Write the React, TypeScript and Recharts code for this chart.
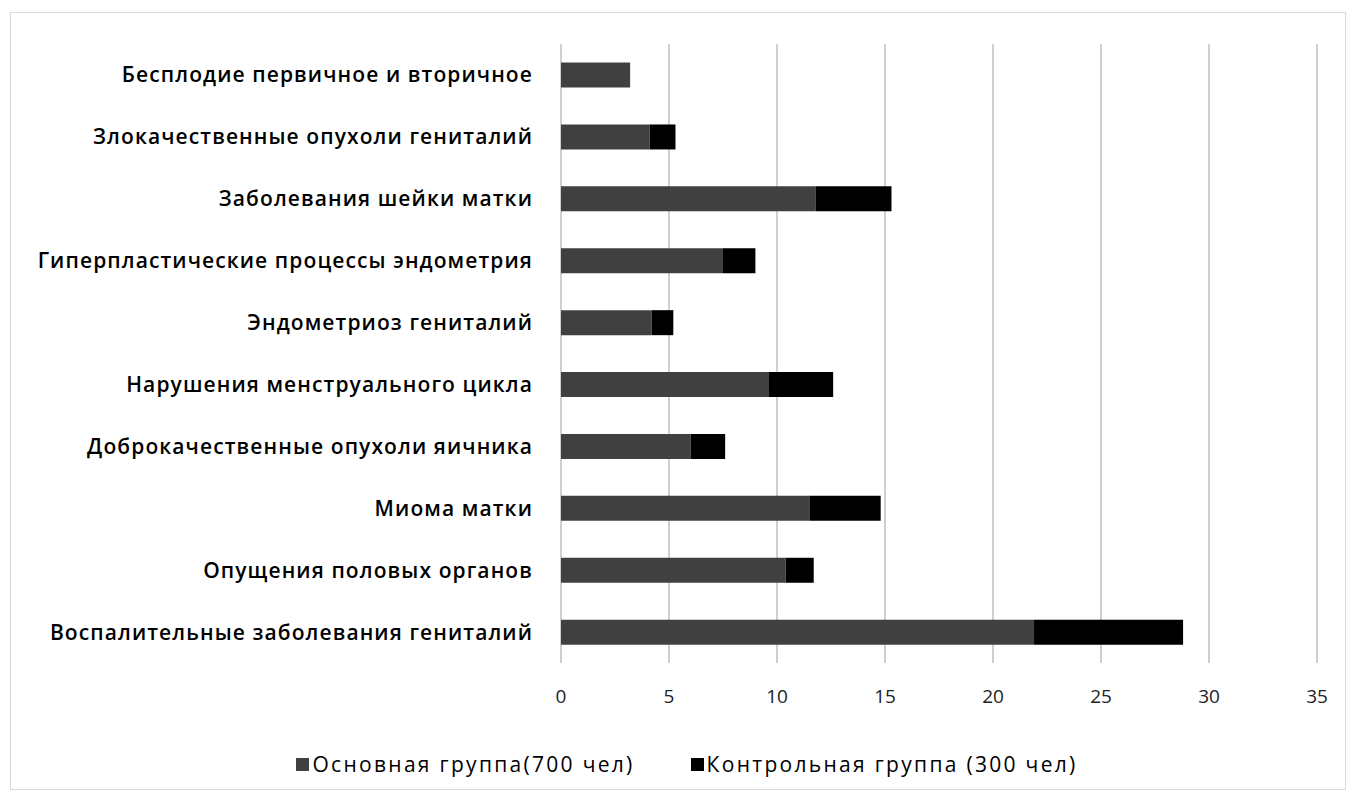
import { Bar, BarChart, CartesianGrid, Legend, XAxis, YAxis } from "recharts";

const categories = [
  "Бесплодие первичное и вторичное",
  "Злокачественные опухоли гениталий",
  "Заболевания шейки матки",
  "Гиперпластические процессы эндометрия",
  "Эндометриоз гениталий",
  "Нарушения менструального цикла",
  "Доброкачественные опухоли яичника",
  "Миома матки",
  "Опущения половых органов",
  "Воспалительные заболевания гениталий",
];

const mainGroup = [3.2, 4.1, 11.8, 7.5, 4.2, 9.6, 6.0, 11.5, 10.4, 21.9];
const controlGroup = [0, 1.2, 3.5, 1.5, 1.0, 3.0, 1.6, 3.3, 1.3, 6.9];

const xTicks = [0, 5, 10, 15, 20, 25, 30, 35];

const data = categories.map((name, i) => ({
  name,
  main: mainGroup[i],
  control: controlGroup[i],
}));

const FONT = "'Open Sans', sans-serif";
const legendOrder = ["main", "control"];

function LegendContent({ payload }: any) {
  const items = [...(payload || [])].sort(
    (a: any, b: any) => legendOrder.indexOf(a.dataKey) - legendOrder.indexOf(b.dataKey)
  );
  return (
    <div style={{ display: "flex", justifyContent: "center", paddingLeft: 46, fontFamily: FONT, fontSize: 21, letterSpacing: 2.3, color: "#000" }}>
      {items.map((p: any, i: number) => (
        <div key={p.value} style={{ display: "flex", alignItems: "center", marginLeft: i ? 56 : 0 }}>
          <span style={{ width: 13, height: 13, background: p.color, display: "inline-block", marginRight: 3 }} />
          <span>{p.value}</span>
        </div>
      ))}
    </div>
  );
}

export default function App() {
  return (
    <div style={{ marginLeft: 2, marginTop: 4, width: 1334, height: 776, border: "1px solid #d9d9d9", background: "#fff" }}>
      <BarChart
        width={1334}
        height={776}
        data={data}
        layout="vertical"
        margin={{ top: 31, right: 28, left: 0, bottom: 15 }}
        barCategoryGap="30%"
      >
        <CartesianGrid horizontal={false} stroke="#bfbfbf" strokeWidth={1.5} />
        <XAxis
          type="number"
          domain={[0, 35]}
          ticks={xTicks}
          height={87}
          axisLine={false}
          tickLine={false}
          tickMargin={21}
          tick={{ fontFamily: FONT, fontSize: 19, fill: "#222" }}
        />
        <YAxis
          type="category"
          dataKey="name"
          width={550}
          axisLine={false}
          tickLine={false}
          tickMargin={22}
          interval={0}
          tick={{ fontFamily: FONT, fontSize: 21, fontWeight: 600, letterSpacing: 1.1, fill: "#000" }}
        />
        <Legend verticalAlign="bottom" height={24} content={<LegendContent />} />
        <Bar dataKey="main" name="Основная группа(700 чел)" stackId="a" fill="#404040" isAnimationActive={false} />
        <Bar dataKey="control" name="Контрольная группа (300 чел)" stackId="a" fill="#000000" isAnimationActive={false} />
      </BarChart>
    </div>
  );
}
